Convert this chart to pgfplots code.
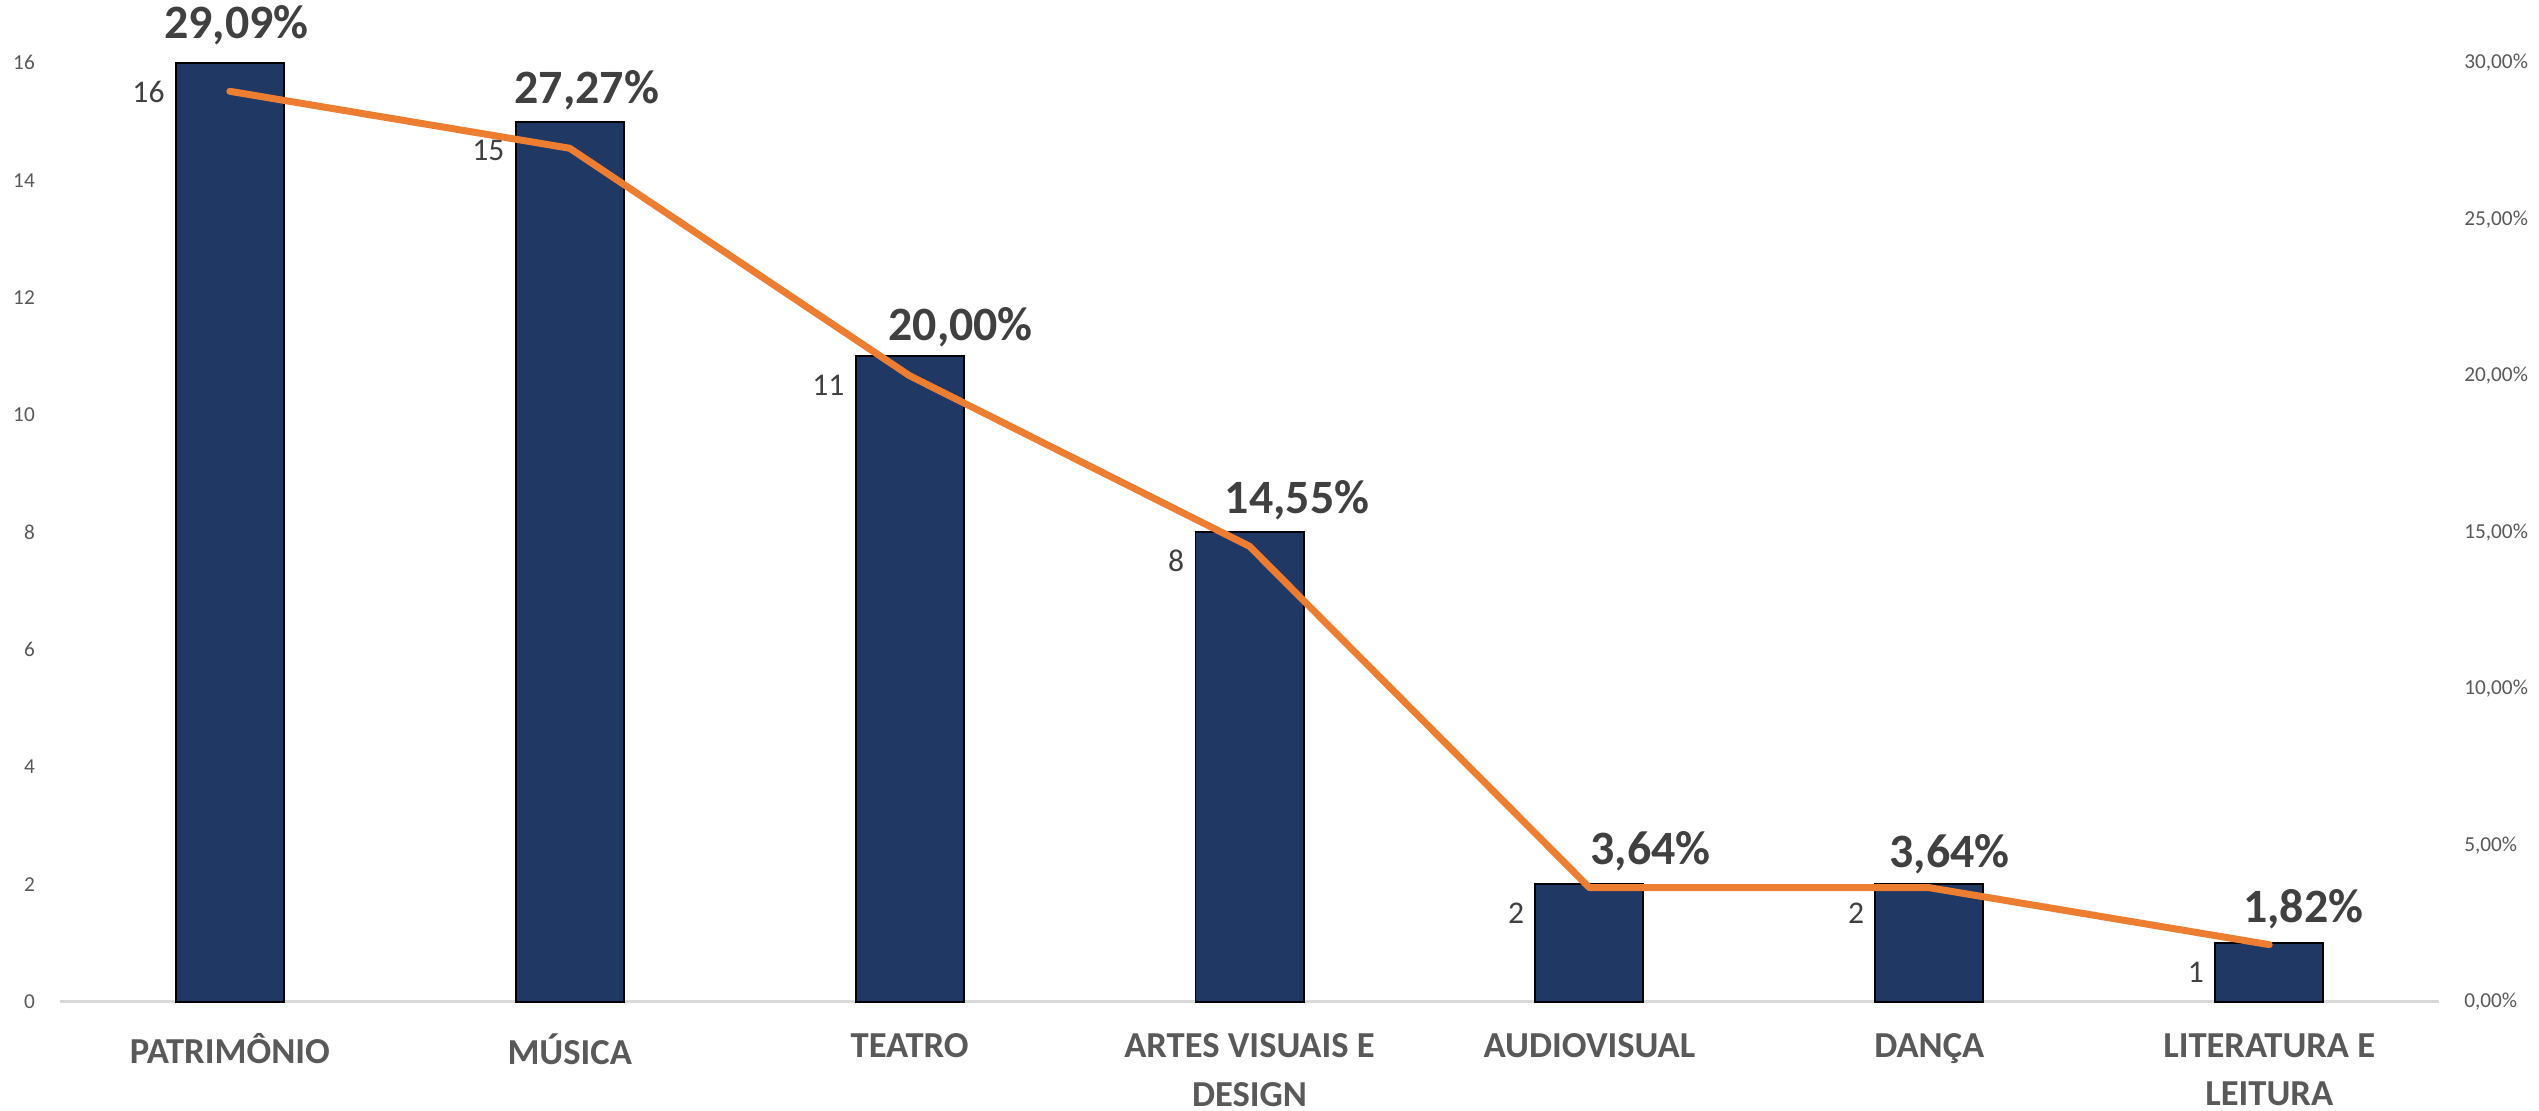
\documentclass[border=0pt]{standalone}
\usepackage{fontspec}
\setmainfont{Carlito}
\usepackage{pgfplots}
\usepackage{pgfplotstable}
\pgfplotsset{compat=1.18}

\definecolor{barblue}{HTML}{203864}
\definecolor{lineorange}{HTML}{ED7D31}
\definecolor{ticktext}{HTML}{595959}
\definecolor{labeltext}{HTML}{404040}
\definecolor{axisgray}{HTML}{D9D9D9}

% number of projects per area
\pgfplotstableread{
x y
0 16
1 15
2 11
3 8
4 2
5 2
6 1
}\counts

% share of the total (right axis, in %)
\pgfplotstableread{
x y
0 29.09
1 27.27
2 20.00
3 14.55
4 3.64
5 3.64
6 1.82
}\shares

% where the percent labels sit (left axis units)
\pgfplotstableread{
x y lab
0.02 16.64 29,09
1.05 15.54 27,27
2.15 11.49 20,00
3.14 8.54 14,55
4.18 2.56 3,64
5.06 2.51 3,64
6.10 1.57 1,82
}\sharelabels

\pgfplotsset{
  common/.style={
    scale only axis,
    width=715.5pt, height=282.3pt,
    xmin=-0.5, xmax=6.5,
    major tick length=0pt,
    clip=false,
    /pgf/number format/assume math mode=true,
    yticklabel style={font=\fontsize{6.4}{7.5}\selectfont, text=ticktext},
  },
}

\begin{document}
\begin{tikzpicture}
\begin{axis}[
    common,
    ymin=0, ymax=16,
    axis x line*=bottom, axis y line*=left,
    x axis line style={draw=axisgray, line width=0.8pt, -},
    y axis line style={draw=none},
    xtick={0,...,6},
    xticklabels={PATRIMÔNIO, MÚSICA, TEATRO, {ARTES VISUAIS E\\DESIGN}, AUDIOVISUAL, DANÇA, {LITERATURA E\\LEITURA}},
    xticklabel style={align=center, font=\fontsize{11}{14.5}\selectfont\bfseries, text=ticktext, inner sep=1pt, yshift=-8.5pt},
    ytick={0,2,...,16},
    yticklabel style={xshift=-4pt},
]
    \addplot[ybar, bar width=32.5pt, fill=barblue, draw=black, line width=0.6pt,
        nodes near coords, nodes near coords align={anchor=east},
        every node near coord/.append style={font=\fontsize{9.5}{11}\selectfont, text=labeltext, xshift=-16pt, yshift=-8.7pt}]
        table {\counts};
    \addplot[draw=none, mark=none, point meta=explicit symbolic,
        nodes near coords={\pgfplotspointmeta\%}, nodes near coords align={anchor=center},
        every node near coord/.append style={font=\fontsize{14.4}{16}\selectfont\bfseries, text=labeltext, inner sep=0.5pt}]
        table[meta=lab] {\sharelabels};
\end{axis}
\begin{axis}[
    common,
    ymin=0, ymax=30,
    axis y line*=right, axis x line=none,
    y axis line style={draw=none},
    ytick={0,5,...,30},
    yticklabel={\pgfmathprintnumber[fixed,fixed zerofill,precision=2,use comma]{\tick}\%},
    yticklabel style={xshift=4pt},
]
    \addplot[lineorange, line width=2.1pt, mark=none, line cap=round, line join=round]
        table {\shares};
\end{axis}
\path ([shift={(-18pt,-32.7pt)}]current axis.south west) rectangle ([shift={(28.2pt,18.9pt)}]current axis.north east);
\end{tikzpicture}
\end{document}
